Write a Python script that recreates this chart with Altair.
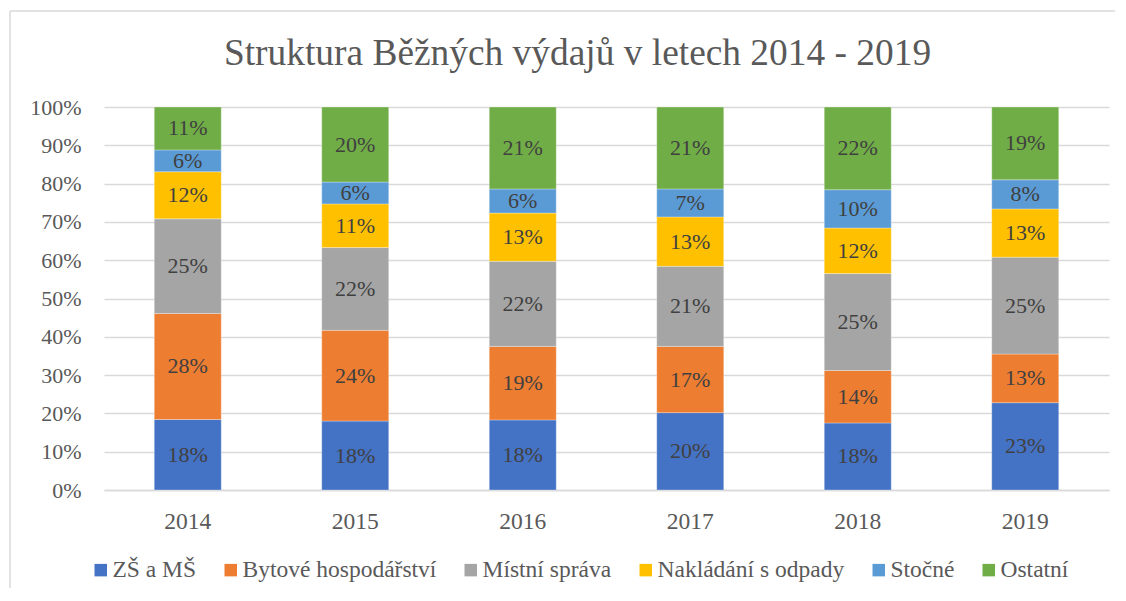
import altair as alt
import pandas as pd

years = ["2014", "2015", "2016", "2017", "2018", "2019"]
categories = ["ZŠ a MŠ", "Bytové hospodářství", "Místní správa",
              "Nakládání s odpady", "Stočné", "Ostatní"]
colors = ["#4472C4", "#ED7D31", "#A5A5A5", "#FFC000", "#5B9BD5", "#70AD47"]

zs_ms   = [18.4, 18.0, 18.3, 20.2, 17.5, 22.8]
bytove  = [27.7, 23.7, 19.2, 17.3, 13.7, 12.7]
mistni  = [24.7, 21.6, 22.2, 20.9, 25.3, 25.3]
odpady  = [12.3, 11.4, 12.6, 12.9, 11.9, 12.6]
stocne  = [5.7, 5.7, 6.3, 7.3, 10.0, 7.6]
ostatni = [11.2, 19.6, 21.4, 21.4, 21.6, 19.0]

series = [zs_ms, bytove, mistni, odpady, stocne, ostatni]
y_ticks = [0, 0.1, 0.2, 0.3, 0.4, 0.5, 0.6, 0.7, 0.8, 0.9, 1.0]

rows = []
for i, yr in enumerate(years):
    for j, (cat, vals) in enumerate(zip(categories, series)):
        rows.append({"year": yr, "cat": cat, "order": j, "value": vals[i]})
df = pd.DataFrame(rows)

FONT = "Liberation Serif"

base = alt.Chart(df).transform_stack(
    stack="value",
    groupby=["year"],
    as_=["y0", "y1"],
    sort=[alt.SortField("order", "ascending")],
    offset="normalize",
).transform_calculate(
    mid="(datum.y0 + datum.y1) / 2",
    label="format(datum.value, '.0f') + '%'",
)

x_axis = alt.Axis(
    title=None, labelAngle=0, ticks=False, domainColor="#d9d9d9",
    domainWidth=1.5, labelFontSize=23.5, labelColor="#595959",
    labelFont=FONT, labelPadding=19,
)
x_scale = alt.Scale(paddingInner=0.6, paddingOuter=0.3)
y_axis = alt.Axis(
    title=None, values=y_ticks, format=".0%", ticks=False, domain=False,
    grid=True, gridColor="#d9d9d9", gridWidth=1.5,
    labelFontSize=22, labelColor="#595959", labelFont=FONT,
    labelPadding=23, labelOverlap=False,
)
y_scale = alt.Scale(domain=[0, 1], nice=False)

bars = base.mark_bar(stroke="white", strokeWidth=0.5, strokeOpacity=0.6).encode(
    x=alt.X("year:N", sort=years, scale=x_scale, axis=x_axis),
    y=alt.Y("y0:Q", scale=y_scale, axis=y_axis),
    y2="y1:Q",
    color=alt.Color(
        "cat:N",
        sort=categories,
        scale=alt.Scale(domain=categories, range=colors),
        legend=alt.Legend(
            title=None, orient="none", legendX=-15, legendY=451,
            direction="horizontal", columnPadding=22,
            symbolType="square", symbolSize=156, symbolStrokeWidth=0,
            labelOffset=0, labelFontSize=23.5, labelFont=FONT,
            labelColor="#595959", labelLimit=400,
        ),
    ),
    order=alt.Order("order:Q"),
)

labels = base.mark_text(font=FONT, fontSize=22, color="#404040", baseline="middle").encode(
    x=alt.X("year:N", sort=years, scale=x_scale, axis=x_axis),
    y=alt.Y("mid:Q", scale=y_scale, axis=y_axis),
    text="label:N",
)

frame_src = alt.Chart(pd.DataFrame({"f": [0]}))
frame_top = frame_src.mark_rule(stroke="#d9d9d9", strokeWidth=1.5).encode(
    x=alt.value(-94), x2=alt.value(1400), y=alt.value(-96)
)
frame_left = frame_src.mark_rule(stroke="#d9d9d9", strokeWidth=1.5).encode(
    x=alt.value(-94), y=alt.value(-96), y2=alt.value(700)
)

chart = alt.layer(frame_top, frame_left, bars, labels).properties(
    width=1005,
    height=383,
    title=alt.TitleParams(
        "Struktura Běžných výdajů v letech 2014 - 2019",
        font=FONT, fontSize=37.4, fontWeight="normal", color="#595959",
        anchor="middle", frame="group", baseline="alphabetic",
        offset=0, dx=-29, dy=92,
    ),
    autosize=alt.AutoSizeParams(type="none"),
    padding={"left": 96, "top": 99, "right": 6, "bottom": 98},
).configure(
    font=FONT,
).configure_axis(
    labelFont=FONT,
).configure_legend(
    labelFont=FONT,
).configure_view(
    strokeWidth=0,
)

chart.save("out.html", embed_options={"renderer": "svg", "actions": False})
